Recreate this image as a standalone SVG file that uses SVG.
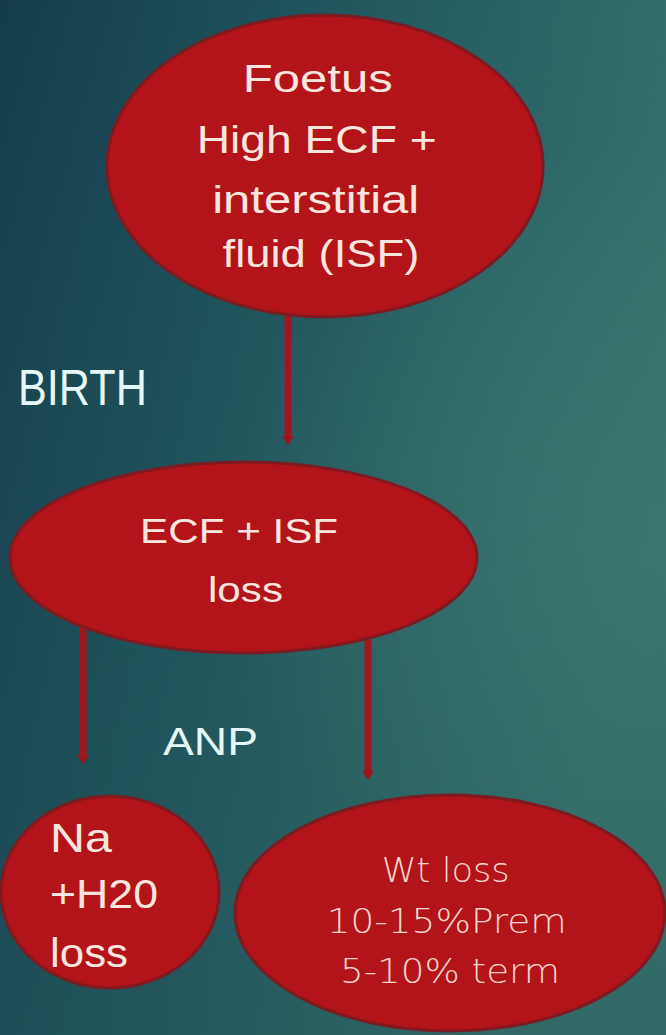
<svg xmlns="http://www.w3.org/2000/svg" width="666" height="1035" viewBox="0 0 666 1035">
  <defs>
    <linearGradient id="bg" x1="0" y1="0" x2="1" y2="0.55">
      <stop offset="0" stop-color="#143c4b"/>
      <stop offset="0.5" stop-color="#255d62"/>
      <stop offset="1" stop-color="#3b7b72"/>
    </linearGradient>
    <radialGradient id="glow" cx="640" cy="560" r="420" gradientUnits="userSpaceOnUse">
      <stop offset="0" stop-color="#44857a" stop-opacity="0.7"/>
      <stop offset="1" stop-color="#44857a" stop-opacity="0"/>
    </radialGradient>
    <linearGradient id="shade" x1="0" y1="0" x2="0" y2="1">
      <stop offset="0" stop-color="#0f3040" stop-opacity="0"/>
      <stop offset="1" stop-color="#0f3040" stop-opacity="0.25"/>
    </linearGradient>
    <marker id="arrow" markerUnits="userSpaceOnUse" markerWidth="10" markerHeight="14" refX="2" refY="7" orient="auto" viewBox="0 0 10 14">
      <path d="M0,1 L9,7 L0,13 Z" fill="#9c151b"/>
    </marker>
    <style>
      .node { fill: #b31419; stroke: #7e1b21; stroke-width: 3; }
      .conn { stroke: #a3161c; stroke-width: 7; fill: none; }
      .txt { font-family: "Liberation Sans", Arial, sans-serif; fill: #f7e6df; }
      .lbl { font-family: "Liberation Sans", Arial, sans-serif; fill: #e6f7f7; }
      .thin { font-family: "DejaVu Sans", "Liberation Sans", sans-serif; font-weight: 200; fill: #f2d6cf; }
    </style>
  </defs>

  <rect width="666" height="1035" fill="url(#bg)"/>
  <rect width="666" height="1035" fill="url(#glow)"/>
  <rect width="666" height="1035" fill="url(#shade)"/>

  <g id="connectors">
    <line class="conn" x1="288" y1="316" x2="288" y2="438" marker-end="url(#arrow)"/>
    <line class="conn" x1="83" y1="622" x2="83" y2="757" marker-end="url(#arrow)"/>
    <line class="conn" x1="368" y1="640" x2="368" y2="773" marker-end="url(#arrow)"/>
  </g>

  <g id="node-foetus">
    <ellipse class="node" cx="325" cy="166" rx="218" ry="151"/>
    <text class="txt" font-size="38" text-anchor="middle">
      <tspan x="323" y="92" textLength="150" lengthAdjust="spacingAndGlyphs">Foetus</tspan>
      <tspan x="322" y="153" textLength="240" lengthAdjust="spacingAndGlyphs">High ECF +</tspan>
      <tspan x="321" y="213" textLength="207" lengthAdjust="spacingAndGlyphs">interstitial</tspan>
      <tspan x="321" y="267" textLength="197" lengthAdjust="spacingAndGlyphs">fluid (ISF)</tspan>
    </text>
  </g>

  <g id="label-birth">
    <text class="lbl" x="18" y="405" font-size="50" textLength="129" lengthAdjust="spacingAndGlyphs">BIRTH</text>
  </g>

  <g id="node-loss">
    <ellipse class="node" cx="243.5" cy="557.5" rx="233.5" ry="95.5"/>
    <text class="txt" font-size="35" text-anchor="middle">
      <tspan x="244" y="543" textLength="198" lengthAdjust="spacingAndGlyphs">ECF + ISF</tspan>
      <tspan x="245.5" y="602" textLength="75" lengthAdjust="spacingAndGlyphs">loss</tspan>
    </text>
  </g>

  <g id="label-anp">
    <text class="lbl" x="163" y="755" font-size="39" textLength="95" lengthAdjust="spacingAndGlyphs">ANP</text>
  </g>

  <g id="node-na">
    <ellipse class="node" cx="110" cy="892" rx="109" ry="96"/>
    <text class="txt" font-size="41">
      <tspan x="50" y="852" textLength="62" lengthAdjust="spacingAndGlyphs">Na</tspan>
      <tspan x="50" y="908" textLength="108" lengthAdjust="spacingAndGlyphs">+H20</tspan>
      <tspan x="50" y="967" textLength="78" lengthAdjust="spacingAndGlyphs">loss</tspan>
    </text>
  </g>

  <g id="node-wt">
    <ellipse class="node" cx="450" cy="913" rx="215" ry="118"/>
    <text class="thin" font-size="33" text-anchor="middle">
      <tspan x="451" y="882" textLength="128" lengthAdjust="spacingAndGlyphs">Wt loss</tspan>
      <tspan x="452" y="933" textLength="240" lengthAdjust="spacingAndGlyphs">10-15%Prem</tspan>
      <tspan x="450" y="983" textLength="220" lengthAdjust="spacingAndGlyphs">5-10% term</tspan>
    </text>
  </g>
</svg>
